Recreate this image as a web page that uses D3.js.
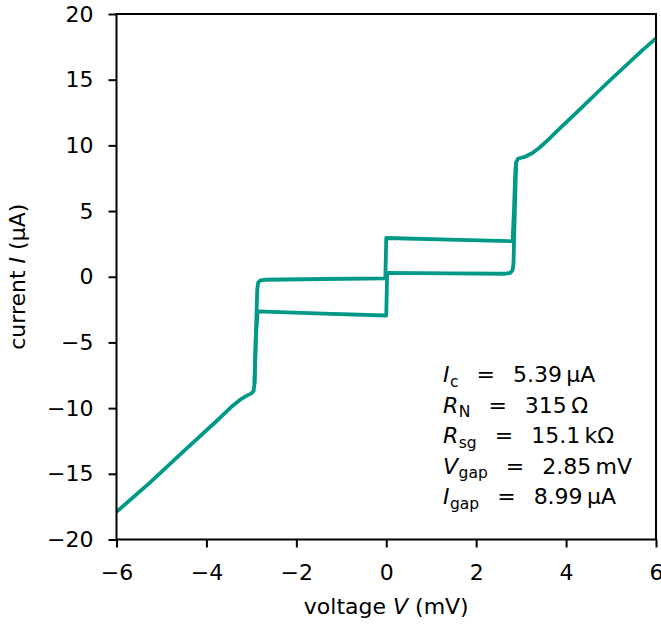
<!DOCTYPE html>
<html>
<head>
<meta charset="utf-8">
<script src="https://cdn.jsdelivr.net/npm/d3@7"></script>
<style>
  body { margin: 0; background: #fff; }
  svg { display: block; font-family: "DejaVu Sans", sans-serif; }
</style>
</head>
<body>
<svg width="661" height="625"></svg>
<script>
// sweep up: outer negative branch, subgap, supercurrent, upper line, outer positive branch
const upV = [-6.00, -5.25, -4.51, -3.70, -3.45, -3.25, -3.10, -3.00, -2.95, -2.93, -2.90, -2.87, -2.85, -2.80, -2.70, -1.40, -0.02,
             0.00, 1.40, 2.81, 2.84, 2.87, 2.89, 2.93, 3.00, 3.10, 3.25, 3.40, 3.60, 3.85, 4.22, 4.96, 5.70, 6.00];
const upI = [-17.90, -15.65, -13.30, -10.75, -9.92, -9.36, -9.05, -8.88, -8.70, -8.10, -4.50, -1.00, -0.45, -0.28, -0.23, -0.17, -0.12,
             2.95, 2.83, 2.70, 5.00, 8.00, 8.70, 8.98, 9.06, 9.15, 9.42, 9.80, 10.42, 11.25, 12.45, 14.90, 17.25, 18.15];
// sweep down: from the right gap edge back through the inner loop to the left gap edge
const downV = [2.89, 2.86, 2.83, 2.81, 2.76, 2.65, 1.40, 0.02, 0.00, -1.40, -2.86, -2.90, -2.93];
const downI = [8.70, 5.00, 1.00, 0.50, 0.30, 0.23, 0.26, 0.29, -2.95, -2.80, -2.63, -4.50, -8.10];

const xTicks = [-6, -4, -2, 0, 2, 4, 6];
const yTicks = [-20, -15, -10, -5, 0, 5, 10, 15, 20];

const fitSym = ["I", "R", "R", "V", "I"];
const fitSub = ["c", "N", "sg", "gap", "gap"];
const fitVal = ["5.39\u2009μA", "315\u2009Ω", "15.1\u2009kΩ", "2.85\u2009mV", "8.99\u2009μA"];

const svg = d3.select("svg");
const x0 = 116.5, x1 = 656, y0 = 14, y1 = 539.5;
const color = "#009988";

const x = d3.scaleLinear().domain([-6, 6]).range([x0, x1]);
const y = d3.scaleLinear().domain([-20, 20]).range([y1, y0]);

svg.append("clipPath").attr("id", "plot")
  .append("rect").attr("x", x0).attr("y", y0)
  .attr("width", x1 - x0).attr("height", y1 - y0);

const line = d3.line().x(d => x(d[0])).y(d => y(d[1]));

[[upV, upI], [downV, downI]].forEach(([vs, is]) => {
  svg.append("path")
    .attr("d", line(vs.map((v, i) => [v, is[i]])))
    .attr("clip-path", "url(#plot)")
    .attr("fill", "none")
    .attr("stroke", color)
    .attr("stroke-width", 3.8)
    .attr("stroke-linejoin", "round")
    .attr("stroke-linecap", "round");
});

const xAxis = svg.append("g")
  .attr("transform", `translate(0,${y1})`)
  .call(d3.axisBottom(x).tickValues(xTicks).tickSize(8).tickPadding(17));
const yAxis = svg.append("g")
  .attr("transform", `translate(${x0},0)`)
  .call(d3.axisLeft(y).tickValues(yTicks).tickSize(8).tickPadding(15));

[xAxis, yAxis].forEach(g => {
  g.select(".domain").remove();
  g.selectAll("line").attr("stroke", "#000").attr("stroke-width", 2);
  g.selectAll("text").attr("font-size", 22).attr("fill", "#000")
    .attr("font-family", "DejaVu Sans, sans-serif");
});

svg.append("rect")
  .attr("x", x0).attr("y", y0)
  .attr("width", x1 - x0).attr("height", y1 - y0)
  .attr("fill", "none").attr("stroke", "#000").attr("stroke-width", 2);

const xl = svg.append("text")
  .attr("x", (x0 + x1) / 2).attr("y", 614)
  .attr("text-anchor", "middle").attr("font-size", 22);
xl.append("tspan").text("voltage ");
xl.append("tspan").attr("font-style", "italic").text("V");
xl.append("tspan").text(" (mV)");

const yl = svg.append("text")
  .attr("transform", `translate(25,${(y0 + y1) / 2}) rotate(-90)`)
  .attr("text-anchor", "middle").attr("font-size", 22);
yl.append("tspan").text("current ");
yl.append("tspan").attr("font-style", "italic").text("I");
yl.append("tspan").text(" (μA)");

// fit results
fitSym.forEach((s, i) => {
  const t = svg.append("text").attr("x", 443).attr("y", 382 + i * 30.5).attr("font-size", 22);
  t.append("tspan").attr("font-style", "italic").text(s);
  t.append("tspan").attr("font-size", 15.5).attr("dy", 4.5).attr("dx", 0.5).text(fitSub[i]);
  t.append("tspan").attr("dy", -4.5).attr("dx", 18).text("=");
  t.append("tspan").attr("dx", 18).text(fitVal[i]);
});
</script>
</body>
</html>
